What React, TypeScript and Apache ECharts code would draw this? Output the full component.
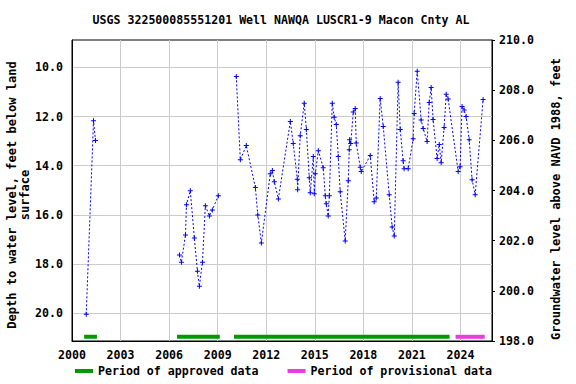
import React, { useEffect, useRef } from 'react';
import * as echarts from 'echarts';

const TITLE = 'USGS 322500085551201 Well NAWQA LUSCR1-9 Macon Cnty AL';
const LEFT_NAME = 'Depth to water level, feet below land\nsurface';
const RIGHT_NAME = 'Groundwater level above NAVD 1988, feet';
const APPROVED_NAME = 'Period of approved data';
const PROVISIONAL_NAME = 'Period of provisional data';

const BASE_YEAR = 2000;
const X_MAX_YEAR = 2025.95;
const X_TICK_STEP = 3;

const DEPTH_MIN = 8.89;
const DEPTH_MAX = 21.126;
const DEPTH_TICKS = [10, 12, 14, 16, 18, 20];
const ELEV_MIN = 198;
const ELEV_MAX = 210;

// measurement dates (decimal years) and depth below land surface (ft)
const years = [
  2000.88, 2001.33, 2001.45,
  2006.64, 2006.76, 2007.01, 2007.07, 2007.31, 2007.56, 2007.75, 2007.87, 2008.06, 2008.24, 2008.49, 2008.67, 2009.04,
  2010.15, 2010.40, 2010.77, 2011.33, 2011.48, 2011.70, 2012.25, 2012.38, 2012.50, 2012.75,
  2013.49, 2013.67, 2013.92, 2013.94, 2014.10, 2014.35, 2014.48, 2014.66, 2014.72, 2014.91,
  2014.97, 2015.03, 2015.22, 2015.52, 2015.65, 2015.71, 2015.83, 2015.90, 2016.08, 2016.20,
  2016.33, 2016.45, 2016.57, 2016.88, 2017.07, 2017.13, 2017.15, 2017.22, 2017.38, 2017.50,
  2017.56, 2017.81, 2017.87, 2018.43, 2018.67, 2018.80, 2019.04, 2019.23, 2019.60, 2019.78,
  2019.91, 2020.15, 2020.28, 2020.46, 2020.52, 2020.77, 2021.08, 2021.14, 2021.33, 2021.57,
  2021.70, 2021.94, 2022.07, 2022.19, 2022.31, 2022.56, 2022.69, 2022.81, 2022.99, 2023.12,
  2023.24, 2023.86, 2023.98, 2024.10, 2024.23, 2024.35, 2024.54, 2024.72, 2024.91, 2025.40,
];
const depths = [
  20.04, 12.17, 12.98,
  17.63, 17.92, 16.82, 15.59, 15.02, 16.94, 18.29, 18.90, 17.92, 15.63, 16.04, 15.80, 15.22,
  10.37, 13.76, 13.18, 14.89, 16.00, 17.14, 14.33, 14.20, 14.65, 15.35,
  12.20, 13.10, 14.55, 14.98, 12.78, 11.46, 12.53, 14.49, 15.10, 13.63,
  15.14, 14.33, 13.39, 14.08, 15.22, 15.55, 16.04, 15.22, 11.46, 12.03,
  12.33, 13.63, 15.06, 17.06, 14.61, 13.35, 12.94, 13.10, 11.82, 11.67,
  13.08, 14.06, 14.24, 13.59, 15.47, 15.31, 11.27, 12.41, 15.18, 16.49,
  16.86, 10.61, 12.53, 13.80, 14.12, 14.12, 12.90, 11.88, 10.16, 12.14,
  12.49, 13.02, 11.43, 10.82, 12.12, 13.71, 13.14, 13.88, 12.45, 11.10,
  11.29, 14.24, 14.04, 11.59, 11.74, 12.00, 12.94, 14.57, 15.18, 11.31,
];

const approvedPeriods = [
  [2000.75, 2001.54],
  [2006.49, 2009.13],
  [2010.01, 2023.33],
];
const provisionalPeriods = [[2023.7, 2025.5]];

const GAP_YEARS = 1;
const BAR_DEPTH = 20.955;

const FONT = '"DejaVu Sans Mono", monospace';
const BLUE = '#0000ff';
const GREEN = '#009a00';
const PINK = '#e83ee0';
const GRID = '#cccccc';

function buildLevelData() {
  const out: any[] = [];
  for (let i = 0; i < years.length; i++) {
    if (i > 0 && years[i] - years[i - 1] > GAP_YEARS) {
      out.push([(years[i] + years[i - 1]) / 2 - BASE_YEAR, null]);
    }
    out.push([years[i] - BASE_YEAR, depths[i]]);
  }
  return out;
}

function buildPeriodData(periods: number[][]) {
  const out: any[] = [];
  periods.forEach((p, i) => {
    if (i > 0) out.push([(periods[i - 1][1] + p[0]) / 2 - BASE_YEAR, null]);
    out.push([p[0] - BASE_YEAR, BAR_DEPTH]);
    out.push([p[1] - BASE_YEAR, BAR_DEPTH]);
  });
  return out;
}

const isMultiple = (v: number, step: number) => {
  const r = Math.round(v);
  return Math.abs(v - r) < 1e-6 && r % step === 0;
};

export default function App() {
  const ref = useRef<HTMLDivElement>(null);
  useEffect(() => {
    if (!ref.current) return;
    const chart = echarts.init(ref.current, undefined, { renderer: 'svg' });
    const labelStyle = { fontFamily: FONT, fontWeight: 'bold' as const, fontSize: 11.6, color: '#000' };
    chart.setOption({
      animation: false,
      backgroundColor: '#fff',
      grid: { left: 72, right: 84, top: 40, bottom: 43, show: true, borderColor: '#000', borderWidth: 1, backgroundColor: 'transparent' },
      graphic: [
        { type: 'text', x: 281, y: 20, style: { text: TITLE, align: 'center', verticalAlign: 'middle', font: `bold 11.6px ${FONT}`, fill: '#000' } },
        { type: 'text', x: 18.5, y: 195, rotation: Math.PI / 2, style: { text: LEFT_NAME, align: 'center', verticalAlign: 'middle', font: `bold 12px ${FONT}`, lineHeight: 13, fill: '#000' } },
        { type: 'text', x: 556, y: 199, rotation: Math.PI / 2, style: { text: RIGHT_NAME, align: 'center', verticalAlign: 'middle', font: `bold 12px ${FONT}`, fill: '#000' } },
      ],
      legend: {
        left: 75,
        top: 365,
        padding: 0,
        icon: 'rect',
        itemWidth: 18,
        itemHeight: 4,
        itemGap: 29,
        data: [APPROVED_NAME, PROVISIONAL_NAME],
        textStyle: { ...labelStyle },
        selectedMode: false,
      },
      xAxis: {
        type: 'value',
        min: 0,
        max: X_MAX_YEAR - BASE_YEAR,
        interval: X_TICK_STEP,
        axisLine: { show: true, lineStyle: { color: '#000', width: 1 } },
        axisTick: { show: false },
        axisLabel: { ...labelStyle, margin: 8, formatter: (v: number) => (isMultiple(v, X_TICK_STEP) ? String(BASE_YEAR + Math.round(v)) : '') },
        splitLine: { show: true, lineStyle: { color: GRID, width: 1 } },
      },
      yAxis: [
        {
          type: 'value',
          position: 'left',
          inverse: true,
          min: DEPTH_MIN,
          max: DEPTH_MAX,
          axisLine: { show: true, lineStyle: { color: '#000', width: 1 } },
          axisTick: { show: false, customValues: DEPTH_TICKS },
          axisLabel: { ...labelStyle, margin: 9, customValues: DEPTH_TICKS, formatter: (v: number) => v.toFixed(1) },
          splitLine: { show: true, lineStyle: { color: GRID, width: 1 } },
        },
        {
          type: 'value',
          position: 'right',
          min: ELEV_MIN,
          max: ELEV_MAX,
          interval: 2,
          axisLine: { show: true, lineStyle: { color: '#000', width: 1 } },
          axisTick: { show: true, inside: false, length: 3, lineStyle: { color: '#000' } },
          axisLabel: { ...labelStyle, margin: 7, formatter: (v: number) => v.toFixed(1) },
          splitLine: { show: false },
        },
      ],
      series: [
        {
          name: 'Water level',
          type: 'line',
          yAxisIndex: 0,
          data: buildLevelData(),
          connectNulls: false,
          symbol: 'path://M2 0H3V2H5V3H3V5H2V3H0V2H2Z',
          symbolSize: 5,
          itemStyle: { color: BLUE },
          lineStyle: { color: BLUE, width: 1, type: [2, 2] },
          silent: true,
          z: 3,
        },
        {
          name: APPROVED_NAME,
          type: 'line',
          yAxisIndex: 0,
          data: buildPeriodData(approvedPeriods),
          connectNulls: false,
          symbol: 'none',
          itemStyle: { color: GREEN },
          lineStyle: { color: GREEN, width: 4 },
          silent: true,
        },
        {
          name: PROVISIONAL_NAME,
          type: 'line',
          yAxisIndex: 0,
          data: buildPeriodData(provisionalPeriods),
          connectNulls: false,
          symbol: 'none',
          itemStyle: { color: PINK },
          lineStyle: { color: PINK, width: 4 },
          silent: true,
        },
      ],
    });
    return () => chart.dispose();
  }, []);
  return <div ref={ref} style={{ width: 576, height: 384, position: 'absolute', left: 0, top: 0 }} />;
}
